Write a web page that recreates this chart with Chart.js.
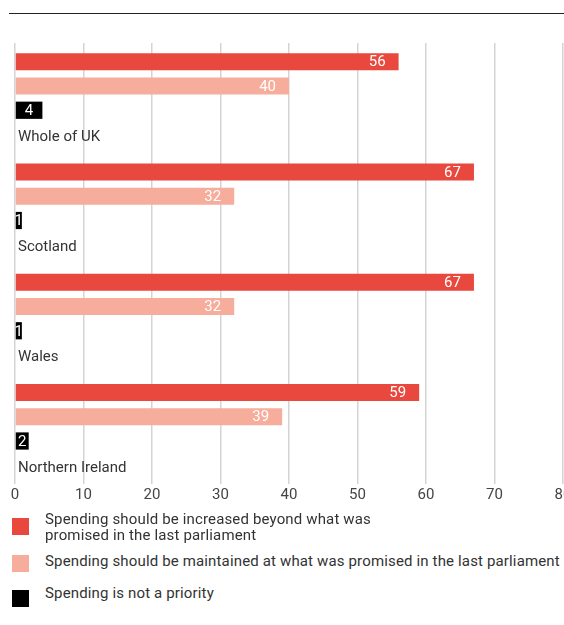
<!DOCTYPE html>
<html>
<head>
<meta charset="utf-8">
<script src="https://cdn.jsdelivr.net/npm/chart.js@4"></script>
<style>
  html, body { margin: 0; padding: 0; background: #fff; }
  body { width: 564px; height: 625px; overflow: hidden; position: relative; font-family: Roboto, sans-serif; }
  #topRule { position: absolute; left: 9px; top: 13px; width: 555px; border-top: 1.5px solid #222; }
  #chartBox { position: absolute; left: 0; top: 0; }
  .key { position: absolute; left: 12px; width: 17px; height: 17px; }
  .keyText { position: absolute; left: 45px; font-size: 15px; letter-spacing: 0.15px; line-height: 16px; color: #333; white-space: nowrap; }
</style>
</head>
<body>
<div id="topRule"></div>
<div id="chartBox"><canvas id="myChart" width="580" height="514"></canvas></div>
<div id="legend"></div>

<script>
// Survey shares (%) by region
const regions = ['Whole of UK', 'Scotland', 'Wales', 'Northern Ireland'];
const increased = [56, 67, 67, 59];
const maintained = [40, 32, 32, 39];
const notPriority = [4, 1, 1, 2];

const seriesNames = [
    'Spending should be increased beyond what was<br>promised in the last parliament',
    'Spending should be maintained at what was promised in the last parliament',
    'Spending is not a priority'
];

const RED = '#e9483e';
const SALMON = '#f6ad9b';
const BLACK = '#000000';
const seriesColors = [RED, SALMON, BLACK];

// Legend below the chart
const legendTops = [518, 555, 590];
const textTops = [511, 553, 585];
const legend = document.getElementById('legend');
seriesNames.forEach((name, i) => {
    const sw = document.createElement('div');
    sw.className = 'key';
    sw.style.top = legendTops[i] + 'px';
    sw.style.background = seriesColors[i];
    legend.appendChild(sw);
    const txt = document.createElement('div');
    txt.className = 'keyText';
    txt.style.top = textTops[i] + 'px';
    txt.innerHTML = name;
    legend.appendChild(txt);
});

// White value labels inside the bars
const valueLabels = {
    id: 'valueLabels',
    afterDatasetsDraw(chart) {
        const ctx = chart.ctx;
        ctx.save();
        ctx.font = '15px Roboto';
        ctx.fillStyle = '#fff';
        ctx.textBaseline = 'middle';
        for (let i = 0; i < 3; i++) {
            const meta = chart.getDatasetMeta(i);
            meta.data.forEach((bar, j) => {
                const v = chart.data.datasets[i].data[j];
                if (i === 2) {
                    ctx.textAlign = 'center';
                    ctx.fillText(v, (bar.x + bar.base) / 2, bar.y + 1);
                } else {
                    ctx.textAlign = 'right';
                    ctx.fillText(v, bar.x - 13, bar.y + 1);
                }
            });
        }
        ctx.restore();
    }
};

const ctx = document.getElementById('myChart').getContext('2d');
const myChart = new Chart(ctx, {
    type: 'bar',
    data: {
        labels: regions,
        datasets: [
            { label: 'Increased', data: increased, backgroundColor: RED },
            { label: 'Maintained', data: maintained, backgroundColor: SALMON },
            { label: 'Not a priority', data: notPriority, backgroundColor: BLACK },
            // empty slot under each group where the region name goes
            { label: '', data: regions.map(() => null) }
        ]
    },
    options: {
        indexAxis: 'y',
        responsive: false,
        animation: false,
        categoryPercentage: 0.88,
        barPercentage: 0.71,
        layout: { padding: { left: 1, right: 17, top: 43, bottom: 8 } },
        plugins: {
            legend: { display: false },
            tooltip: { enabled: false }
        },
        scales: {
            x: {
                min: 0,
                max: 80,
                ticks: { stepSize: 10, color: '#444', padding: 2, font: { family: 'Roboto', size: 15 } },
                grid: { color: '#d4d4d4', lineWidth: 1.5, drawTicks: false },
                border: { display: false }
            },
            y: {
                grid: { display: false },
                border: { display: false },
                ticks: {
                    mirror: true,
                    padding: 3,
                    labelOffset: 39,
                    color: '#333',
                    font: { family: 'Roboto', size: 15 }
                }
            }
        }
    },
    plugins: [valueLabels]
});
</script>
</body>
</html>
